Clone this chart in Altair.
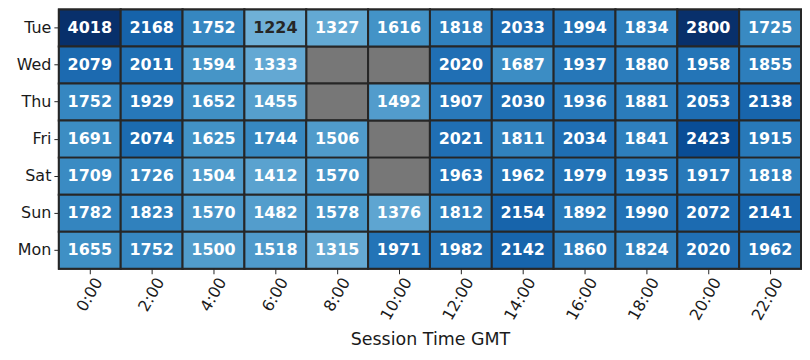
import altair as alt
import pandas as pd

days = ["Tue", "Wed", "Thu", "Fri", "Sat", "Sun", "Mon"]
hours = ["0:00", "2:00", "4:00", "6:00", "8:00", "10:00",
         "12:00", "14:00", "16:00", "18:00", "20:00", "22:00"]

tue = [4018, 2168, 1752, 1224, 1327, 1616, 1818, 2033, 1994, 1834, 2800, 1725]
wed = [2079, 2011, 1594, 1333, None, None, 2020, 1687, 1937, 1880, 1958, 1855]
thu = [1752, 1929, 1652, 1455, None, 1492, 1907, 2030, 1936, 1881, 2053, 2138]
fri = [1691, 2074, 1625, 1744, 1506, None, 2021, 1811, 2034, 1841, 2423, 1915]
sat = [1709, 1726, 1504, 1412, 1570, None, 1963, 1962, 1979, 1935, 1917, 1818]
sun = [1782, 1823, 1570, 1482, 1578, 1376, 1812, 2154, 1892, 1990, 2072, 2141]
mon = [1655, 1752, 1500, 1518, 1315, 1971, 1982, 2142, 1860, 1824, 2020, 1962]

series = [tue, wed, thu, fri, sat, sun, mon]

rows = []
for d, vals in zip(days, series):
    for h, v in zip(hours, vals):
        rows.append({"day": d, "hour": h, "sessions": v})
df = pd.DataFrame(rows)

blues = ["#f7fbff", "#deebf7", "#c6dbef", "#9ecae1", "#6baed6",
         "#4292c6", "#2171b5", "#08519c", "#08306b"]
vmin, vmax = -240, 2750
dom = [vmin + (vmax - vmin) * i / 8 for i in range(9)]

FONT = "DejaVu Sans"

x_enc = alt.X("hour:N", sort=hours, title="Session Time GMT",
              scale=alt.Scale(paddingInner=0, paddingOuter=0),
              axis=alt.Axis(labelAngle=300, labelAlign="right", labelBaseline="middle",
                            labelOffset=9, labelPadding=5, tickSize=5,
                            labelFontSize=16, titleFontSize=17.5, titlePadding=8,
                            titleFontWeight="normal", domain=False))
y_enc = alt.Y("day:N", sort=days, title=None,
              scale=alt.Scale(paddingInner=0, paddingOuter=0),
              axis=alt.Axis(labelFontSize=16, tickSize=5, labelPadding=3, domain=False))

base = alt.Chart(df)

bg = base.mark_rect(fill="#777777", stroke="#262626", strokeWidth=2).encode(x=x_enc, y=y_enc)

cells = base.transform_filter("isValid(datum.sessions)").mark_rect(
    stroke="#262626", strokeWidth=2
).encode(
    x=x_enc, y=y_enc,
    color=alt.Color("sessions:Q", legend=None,
                    scale=alt.Scale(domain=dom, range=blues, clamp=True)),
)

labels = base.transform_filter("isValid(datum.sessions)").mark_text(
    font=FONT, fontWeight="bold", fontSize=16, align="center", baseline="middle"
).encode(
    x=x_enc, y=y_enc,
    text=alt.Text("sessions:Q", format="d"),
    color=alt.condition("datum.sessions < 1260", alt.value("#262626"), alt.value("white")),
)

chart = alt.layer(bg, cells, labels).properties(
    width=744, height=260,
    padding={"left": 8, "top": 0, "right": 0, "bottom": 0},
).configure_view(stroke=None).configure_axis(
    labelFont=FONT, titleFont=FONT, labelColor="#1a1a1a", titleColor="#1a1a1a",
    tickColor="#262626", grid=False
)

chart.save("out.html", embed_options={"renderer": "svg", "actions": False})
